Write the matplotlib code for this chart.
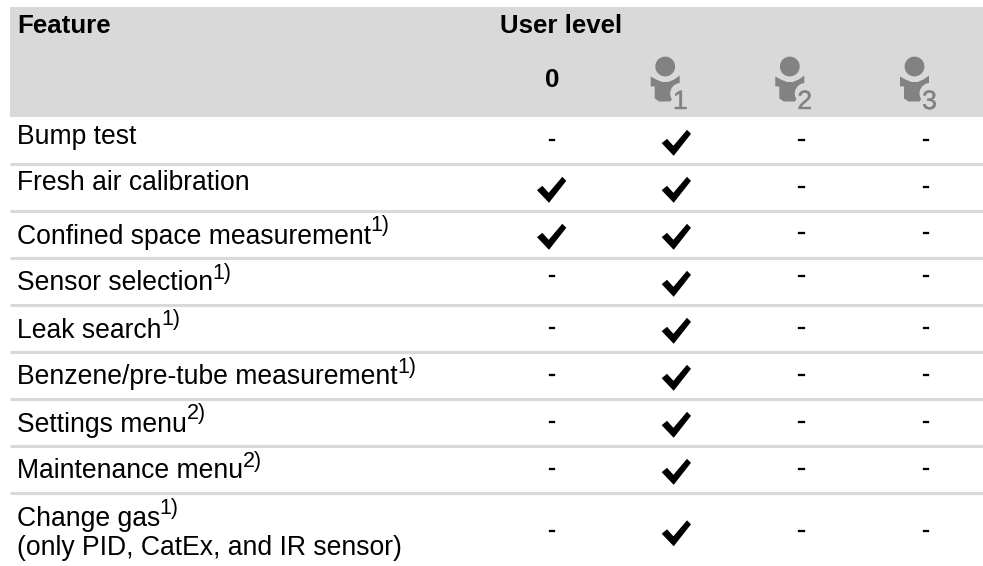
import matplotlib
matplotlib.use("Agg")
import matplotlib.pyplot as plt
import matplotlib.patheffects as pe
from matplotlib.patches import Circle, Polygon, Rectangle

features = ["Bump test", "Fresh air calibration", "Confined space measurement",
            "Sensor selection", "Leak search", "Benzene/pre-tube measurement",
            "Settings menu", "Maintenance menu", "Change gas"]
notes = ["", "", "1)", "1)", "1)", "1)", "2)", "2)", "1)"]
level_0 = [0, 1, 1, 0, 0, 0, 0, 0, 0]
level_1 = [1, 1, 1, 1, 1, 1, 1, 1, 1]
level_2 = [0, 0, 0, 0, 0, 0, 0, 0, 0]
level_3 = [0, 0, 0, 0, 0, 0, 0, 0, 0]
icon_levels = ["1", "2", "3"]

GREY = "#d9d9d9"
ICON = "#808283"
FS = 19.1
FS_BOLD = 18.6
col_x = [552, 676.7, 801.3, 926]
# bottom of each row, the last one is two lines tall
row_bottom = [163.5 + 47 * i for i in range(8)] + [554]
dash_nudge = {2: -1, 3: -5}

plt.rcParams["font.family"] = "Liberation Sans"
fig = plt.figure(figsize=(9.83, 5.66), dpi=100)
ax = fig.add_axes([0, 0, 1, 1])
ax.set_xlim(0, 983)
ax.set_ylim(566, 0)
ax.axis("off")

ax.add_patch(Rectangle((10, 7), 973, 110, fc=GREY, ec="none"))
for y in row_bottom[:-1]:
    ax.hlines(y, 10, 983, color=GREY, lw=2.2)

ax.text(17, 33, "Feature", fontsize=FS_BOLD, fontweight="bold", va="baseline")
ax.text(500, 33, "User level", fontsize=FS_BOLD, fontweight="bold", va="baseline")
ax.text(col_x[0], 87, "0", fontsize=FS_BOLD, fontweight="bold", ha="center", va="baseline")


def draw_check(x, y):
    shape = [(-15, 0.7), (-9.7, -3.7), (-3.3, 3.3), (10.3, -12.7), (14.3, -8.7), (-3, 13.3)]
    ax.add_patch(Polygon([(x + a, y + b) for a, b in shape], fc="black", ec="none"))


def draw_user(x, y, level):
    # x, y is the middle of the head
    body = [(-14.5, 10), (-9, 13), (-3, 15.5), (3, 15.5), (9, 13), (14.5, 9),
            (14.5, 22), (5, 35), (-6, 35), (-10.5, 32), (-10.5, 20), (-14.5, 20)]
    ax.add_patch(Circle((x, y), 9.9, fc=ICON, ec="none"))
    ax.add_patch(Polygon([(x + a, y + b) for a, b in body], fc=ICON, ec="none"))
    ax.add_patch(Circle((x + 15.5, y + 27), 10.5, fc=GREY, ec="none"))
    ax.text(x + 15, 109, level, fontsize=FS, color=ICON, ha="center", va="baseline",
            path_effects=[pe.withStroke(linewidth=0.3, foreground=ICON)])


for x, level in zip(col_x[1:], icon_levels):
    draw_user(x - 11.5, 66.5, level)

renderer = fig.canvas.get_renderer()
levels = [level_0, level_1, level_2, level_3]
for i, name in enumerate(features):
    bottom = row_bottom[i]
    base = bottom - (14 if notes[i] else 20)
    if i == 8:
        base = 526
        ax.text(17, 555, "(only PID, CatEx, and IR sensor)", fontsize=FS, va="baseline")
    t = ax.text(17, base, name, fontsize=FS, va="baseline")
    if notes[i]:
        end = t.get_window_extent(renderer).x1
        ax.text(end - 0.5, base - 12, notes[i], fontsize=15.5, va="baseline")
    for x, vals in zip(col_x, levels):
        if vals[i]:
            draw_check(x, bottom - 21)
        else:
            ax.text(x, bottom - 16 + dash_nudge.get(i, 0), "-", fontsize=FS, ha="center", va="baseline",
                    path_effects=[pe.withStroke(linewidth=0.2, foreground="black")])

fig.savefig("out.png", dpi=100)
